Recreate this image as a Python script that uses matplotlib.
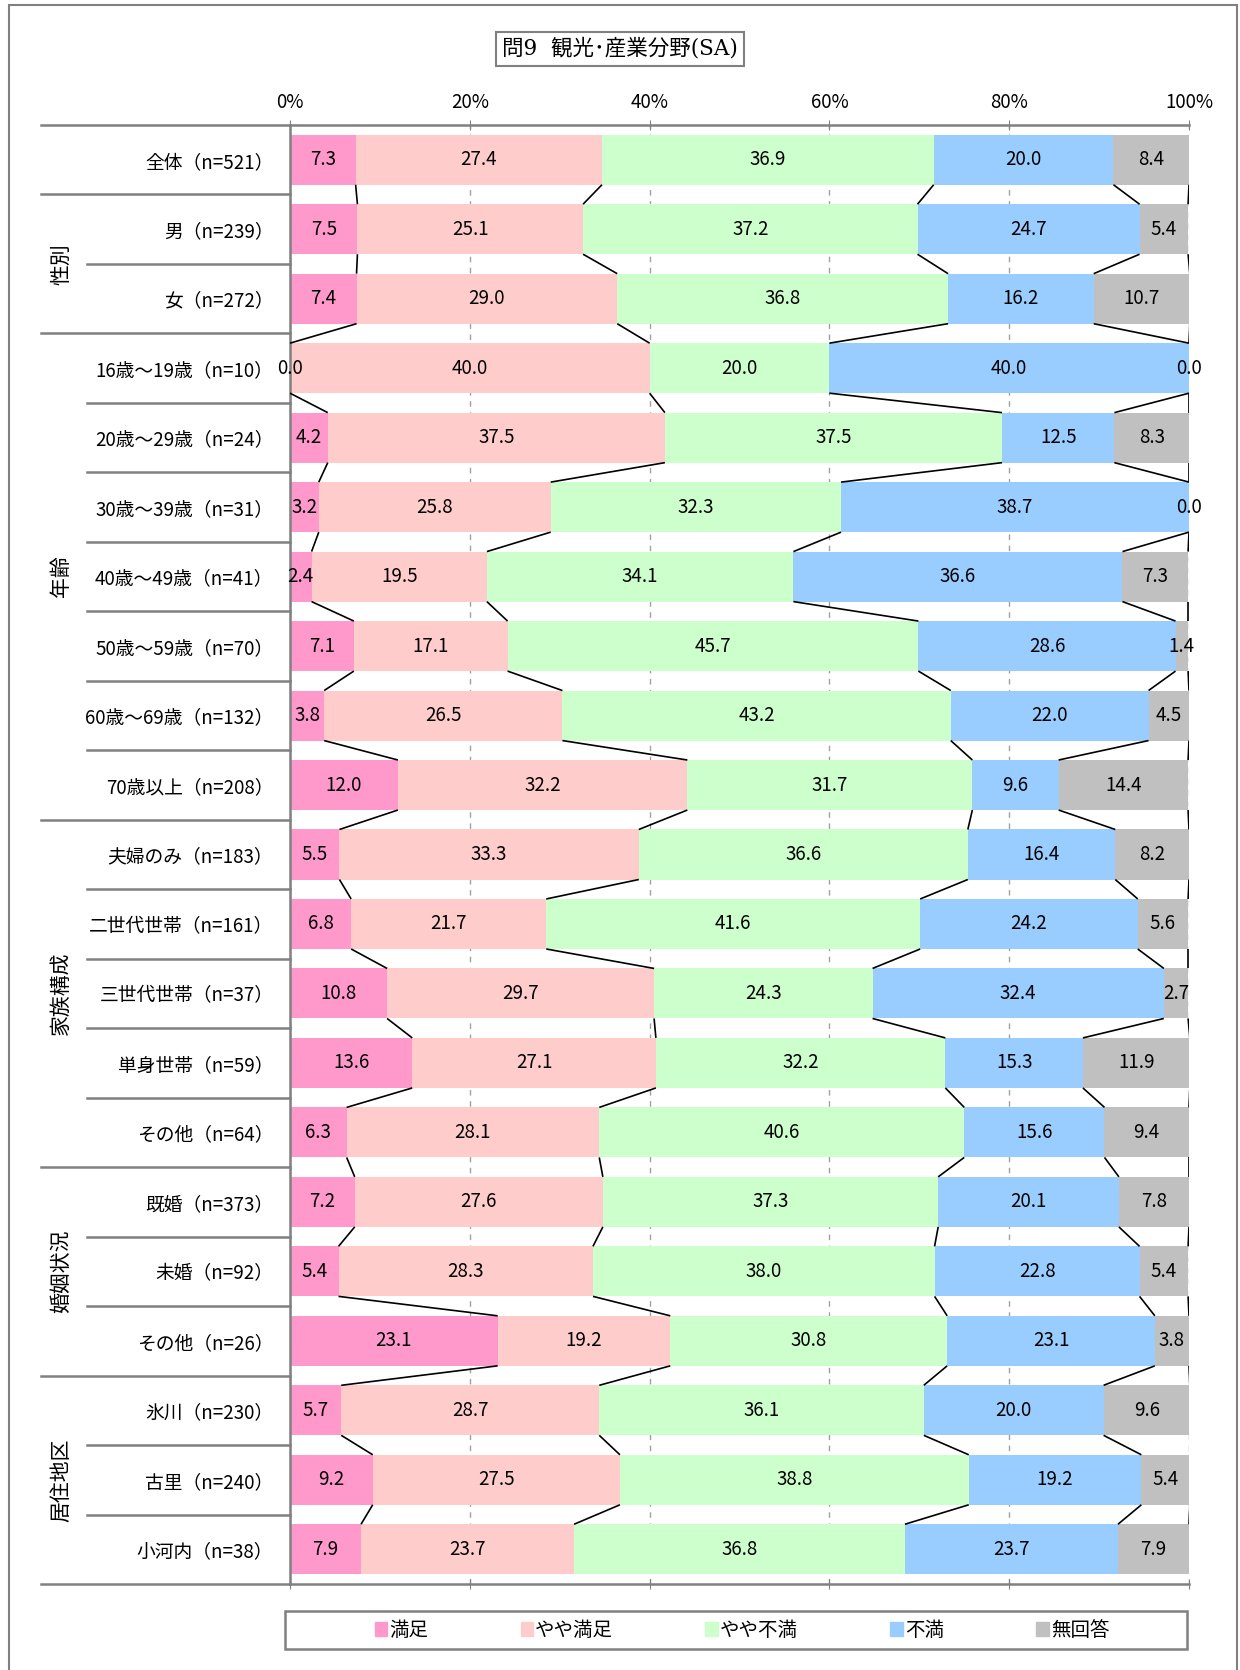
import matplotlib
matplotlib.use("Agg")
import matplotlib.pyplot as plt
import numpy as np
from matplotlib.patches import Rectangle
from matplotlib.lines import Line2D
from matplotlib.transforms import blended_transform_factory

plt.rcParams['font.family'] = ['Noto Sans CJK JP', 'DejaVu Sans']

rows = ['全体（n=521）', '男（n=239）', '女（n=272）',
        '16歳～19歳（n=10）', '20歳～29歳（n=24）', '30歳～39歳（n=31）',
        '40歳～49歳（n=41）', '50歳～59歳（n=70）', '60歳～69歳（n=132）',
        '70歳以上（n=208）', '夫婦のみ（n=183）', '二世代世帯（n=161）',
        '三世代世帯（n=37）', '単身世帯（n=59）', 'その他（n=64）',
        '既婚（n=373）', '未婚（n=92）', 'その他（n=26）',
        '氷川（n=230）', '古里（n=240）', '小河内（n=38）']

satisfied = [7.3, 7.5, 7.4, 0.0, 4.2, 3.2, 2.4, 7.1, 3.8, 12.0, 5.5, 6.8, 10.8, 13.6, 6.3, 7.2, 5.4, 23.1, 5.7, 9.2, 7.9]
somewhat_sat = [27.4, 25.1, 29.0, 40.0, 37.5, 25.8, 19.5, 17.1, 26.5, 32.2, 33.3, 21.7, 29.7, 27.1, 28.1, 27.6, 28.3, 19.2, 28.7, 27.5, 23.7]
somewhat_dis = [36.9, 37.2, 36.8, 20.0, 37.5, 32.3, 34.1, 45.7, 43.2, 31.7, 36.6, 41.6, 24.3, 32.2, 40.6, 37.3, 38.0, 30.8, 36.1, 38.8, 36.8]
dissat = [20.0, 24.7, 16.2, 40.0, 12.5, 38.7, 36.6, 28.6, 22.0, 9.6, 16.4, 24.2, 32.4, 15.3, 15.6, 20.1, 22.8, 23.1, 20.0, 19.2, 23.7]
no_answer = [8.4, 5.4, 10.7, 0.0, 8.3, 0.0, 7.3, 1.4, 4.5, 14.4, 8.2, 5.6, 2.7, 11.9, 9.4, 7.8, 5.4, 3.8, 9.6, 5.4, 7.9]

series_names = ['満足', 'やや満足', 'やや不満', '不満', '無回答']
colors = ['#FF99CC', '#FFCCCC', '#CCFFCC', '#99CCFF', '#C0C0C0']

# group name, first row, last row
groups = [('', 0, 0), ('性別', 1, 2), ('年齢', 3, 9), ('家族構成', 10, 14),
          ('婚姻状況', 15, 17), ('居住地区', 18, 20)]

W, H = 1240, 1670
fig = plt.figure(figsize=(W / 100, H / 100), dpi=100)
ax = fig.add_axes([290 / W, 1 - 1584 / H, (1189 - 290) / W, (1584 - 125) / H])

data = np.array([satisfied, somewhat_sat, somewhat_dis, dissat, no_answer])
n = len(rows)
y = np.arange(n)
bar_h = 0.72
left = np.zeros(n)
for vals, name, col in zip(data, series_names, colors):
    ax.barh(y, vals, left=left, height=bar_h, color=col, label=name, zorder=2)
    for i, v in enumerate(vals):
        ax.text(left[i] + v / 2, i, f'{v:.1f}', ha='center', va='center',
                fontsize=13.5, zorder=4)
    left = left + vals

# series lines between neighbouring bars
cum = np.cumsum(data, axis=0)
for k in range(cum.shape[0]):
    for i in range(n - 1):
        ax.plot([cum[k, i], cum[k, i + 1]], [i + bar_h / 2, i + 1 - bar_h / 2],
                color='black', lw=1.2, zorder=3, solid_capstyle='butt')

ax.set_xlim(0, 100)
ax.set_ylim(n - 0.5, -0.5)
ax.set_xticks(range(0, 101, 20))
ax.set_xticklabels([f'{t}%' for t in range(0, 101, 20)], fontsize=13.5)
ax.tick_params(axis='x', top=True, bottom=True, labeltop=True, labelbottom=False,
               direction='inout', length=7, color='#808080', pad=5)
ax.set_yticks(y)
ax.set_yticklabels(rows, fontsize=13.5)
ax.tick_params(axis='y', length=0, pad=12)
ax.grid(axis='x', linestyle=(0, (4, 4)), color='#a0a0a0', lw=1, zorder=1)
ax.set_axisbelow(True)
ax.spines['right'].set_visible(False)
for side in ['left', 'top', 'bottom']:
    ax.spines[side].set_color('#808080')
    ax.spines[side].set_linewidth(1.8)

# row separators and group labels on the left
tr = blended_transform_factory(fig.transFigure, ax.transData)
for name, a, b in groups:
    ax.add_line(Line2D([41 / W, 290 / W], [a - 0.5, a - 0.5], transform=tr,
                       color='#808080', lw=1.8, clip_on=False))
    for r in range(a + 1, b + 1):
        ax.add_line(Line2D([87 / W, 290 / W], [r - 0.5, r - 0.5], transform=tr,
                           color='#808080', lw=1.8, clip_on=False))
    if name:
        ax.text(61 / W, (a + b) / 2, name, transform=tr, rotation=90,
                ha='center', va='center', fontsize=15)
ax.add_line(Line2D([41 / W, 290 / W], [n - 0.5, n - 0.5], transform=tr,
                   color='#808080', lw=1.8, clip_on=False))

# title box
fig.text(620 / W, 1 - 49 / H, '問9  観光･産業分野(SA)', ha='center', va='center',
         fontsize=15.5, family=['DejaVu Serif', 'Noto Sans CJK JP'],
         bbox=dict(boxstyle='square,pad=0.3', fc='white', ec='#808080', lw=1.5))

# legend
fig.patches.append(Rectangle((285 / W, 1 - 1649 / H), (1187 - 285) / W, 38 / H,
                             transform=fig.transFigure, fill=False,
                             ec='#808080', lw=1.8))
handles = [Rectangle((0, 0), 1, 1, color=c) for c in colors]
fig.legend(handles, series_names, loc='center', bbox_to_anchor=(742 / W, 1 - 1630 / H),
           ncol=5, frameon=False, fontsize=14, handlelength=0.65, handleheight=0.75,
           handletextpad=0.1, columnspacing=4.75)

# outer frame
fig.patches.append(Rectangle((9 / W, -0.01), (1237 - 9) / W, 1.01 - 5 / H,
                             transform=fig.transFigure, fill=False,
                             ec='#808080', lw=1.5))

fig.savefig('out.png', dpi=100)
